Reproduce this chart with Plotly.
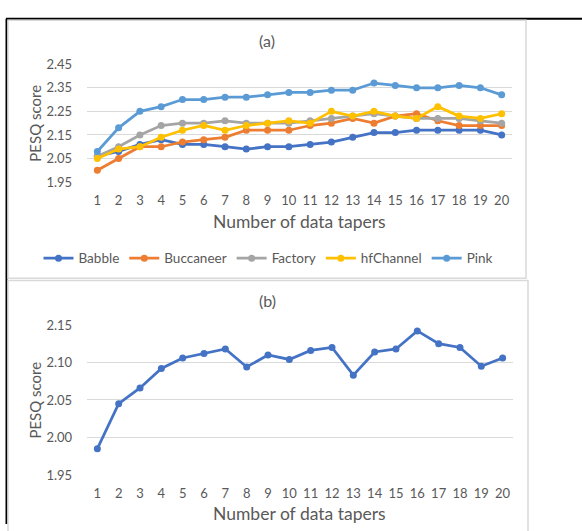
import plotly.graph_objects as go

W, H = 582, 531

tapers = list(range(1, 21))

babble = [2.06, 2.08, 2.11, 2.13, 2.11, 2.11, 2.10, 2.09, 2.10, 2.10,
          2.11, 2.12, 2.14, 2.16, 2.16, 2.17, 2.17, 2.17, 2.17, 2.15]
buccaneer = [2.00, 2.05, 2.10, 2.10, 2.12, 2.13, 2.14, 2.17, 2.17, 2.17,
             2.19, 2.20, 2.22, 2.20, 2.23, 2.24, 2.21, 2.19, 2.19, 2.19]
factory = [2.06, 2.10, 2.15, 2.19, 2.20, 2.20, 2.21, 2.20, 2.20, 2.20,
           2.21, 2.22, 2.23, 2.24, 2.23, 2.22, 2.22, 2.22, 2.21, 2.20]
hfchannel = [2.05, 2.09, 2.10, 2.14, 2.17, 2.19, 2.17, 2.19, 2.20, 2.21,
             2.20, 2.25, 2.23, 2.25, 2.23, 2.22, 2.27, 2.23, 2.22, 2.24]
pink = [2.08, 2.18, 2.25, 2.27, 2.30, 2.30, 2.31, 2.31, 2.32, 2.33,
        2.33, 2.34, 2.34, 2.37, 2.36, 2.35, 2.35, 2.36, 2.35, 2.32]

average = [1.985, 2.045, 2.066, 2.092, 2.106, 2.112, 2.118, 2.094, 2.110, 2.104,
           2.116, 2.120, 2.083, 2.114, 2.118, 2.142, 2.125, 2.120, 2.095, 2.106]

series_names = ["Babble", "Buccaneer", "Factory", "hfChannel", "Pink"]
series_values = [babble, buccaneer, factory, hfchannel, pink]
series_colors = ["#4472C4", "#ED7D31", "#A5A5A5", "#FFC000", "#5B9BD5"]

y_ticks_a = [1.95, 2.05, 2.15, 2.25, 2.35, 2.45]
y_ticks_b = [1.95, 2.00, 2.05, 2.10, 2.15]

FONT = "Lato"
TXT = "#595959"
GRID = "#D9D9D9"


def px(x):
    return x / W


def py(y):
    return 1 - y / H


fig = go.Figure()

for name, vals, col in zip(series_names, series_values, series_colors):
    fig.add_trace(go.Scatter(
        x=tapers, y=vals, name=name, mode="lines+markers",
        line=dict(color=col, width=2.75), marker=dict(color=col, size=7),
        xaxis="x", yaxis="y", showlegend=True,
    ))

fig.add_trace(go.Scatter(
    x=tapers, y=average, name="Average", mode="lines+markers",
    line=dict(color="#4472C4", width=2.75), marker=dict(color="#4472C4", size=7),
    xaxis="x2", yaxis="y2", showlegend=False,
))

common_x = dict(
    range=[0.5, 20.5], tickmode="array", tickvals=tapers,
    showgrid=False, zeroline=False, showline=False,
    ticks="outside", ticklen=6, tickcolor="rgba(0,0,0,0)",
    tickfont=dict(family=FONT, size=13, color=TXT), fixedrange=True,
)
common_y = dict(
    showgrid=True, gridcolor=GRID, gridwidth=1, zeroline=False, showline=False,
    ticks="outside", ticklen=11, tickcolor="rgba(0,0,0,0)",
    tickfont=dict(family=FONT, size=13, color=TXT), fixedrange=True,
)

fig.update_layout(
    width=W, height=H, autosize=False,
    margin=dict(l=0, r=0, t=0, b=0),
    paper_bgcolor="white", plot_bgcolor="white",
    font=dict(family=FONT, color=TXT),
    xaxis=dict(domain=[px(86.7), px(512.3)], anchor="y", **common_x),
    yaxis=dict(domain=[py(179.3), py(57.7)], anchor="x",
               range=[1.9495, 2.4505], tickmode="array", tickvals=y_ticks_a,
               tickformat=".2f", **common_y),
    xaxis2=dict(domain=[px(86.7), px(513.3)], anchor="y2", **common_x),
    yaxis2=dict(domain=[py(480.7), py(326)], anchor="x2",
                range=[1.9498, 2.1502], tickmode="array", tickvals=y_ticks_b,
                tickformat=".2f", **common_y),
    legend=dict(orientation="h", x=px(268.5), y=py(257.7), xanchor="center",
                yanchor="middle", font=dict(family=FONT, size=13.5, color=TXT),
                bgcolor="rgba(0,0,0,0)", itemwidth=30, tracegroupgap=0),
    showlegend=True,
)

ann = []


def add_text(x, y, text, size, angle=0):
    ann.append(dict(x=px(x), y=py(y), xref="paper", yref="paper", text=text,
                    showarrow=False, xanchor="center", yanchor="middle",
                    textangle=angle, font=dict(family=FONT, size=size, color=TXT)))


add_text(267, 33, "(a)", 16)
add_text(267, 301, "(b)", 16)
add_text(299, 220, "Number of data tapers", 17.5)
add_text(299, 520.5, "Number of data tapers", 17.5)
add_text(35, 119, "PESQ score", 15, -90)
add_text(35, 404, "PESQ score", 15, -90)
fig.update_layout(annotations=ann)

shapes = [
    dict(type="line", xref="paper", yref="paper", x0=px(6), x1=1, y0=py(11), y1=py(11),
         line=dict(color="black", width=2)),
    dict(type="line", xref="paper", yref="paper", x0=px(6.5), x1=px(6.5), y0=py(11), y1=0,
         line=dict(color="black", width=2)),
    dict(type="rect", xref="paper", yref="paper", x0=px(8), x1=px(526), y0=py(278), y1=py(12.5),
         line=dict(color="#D9D9D9", width=1.5)),
    dict(type="rect", xref="paper", yref="paper", x0=px(8), x1=px(528), y0=py(540), y1=py(280.5),
         line=dict(color="#D9D9D9", width=1.5)),
]
fig.update_layout(shapes=shapes)

fig.write_html(
    "out.html",
    config={"displayModeBar": False, "staticPlot": False},
    post_script="document.body.style.margin='0';document.body.style.padding='0';"
                "document.body.style.overflow='hidden';",
)
